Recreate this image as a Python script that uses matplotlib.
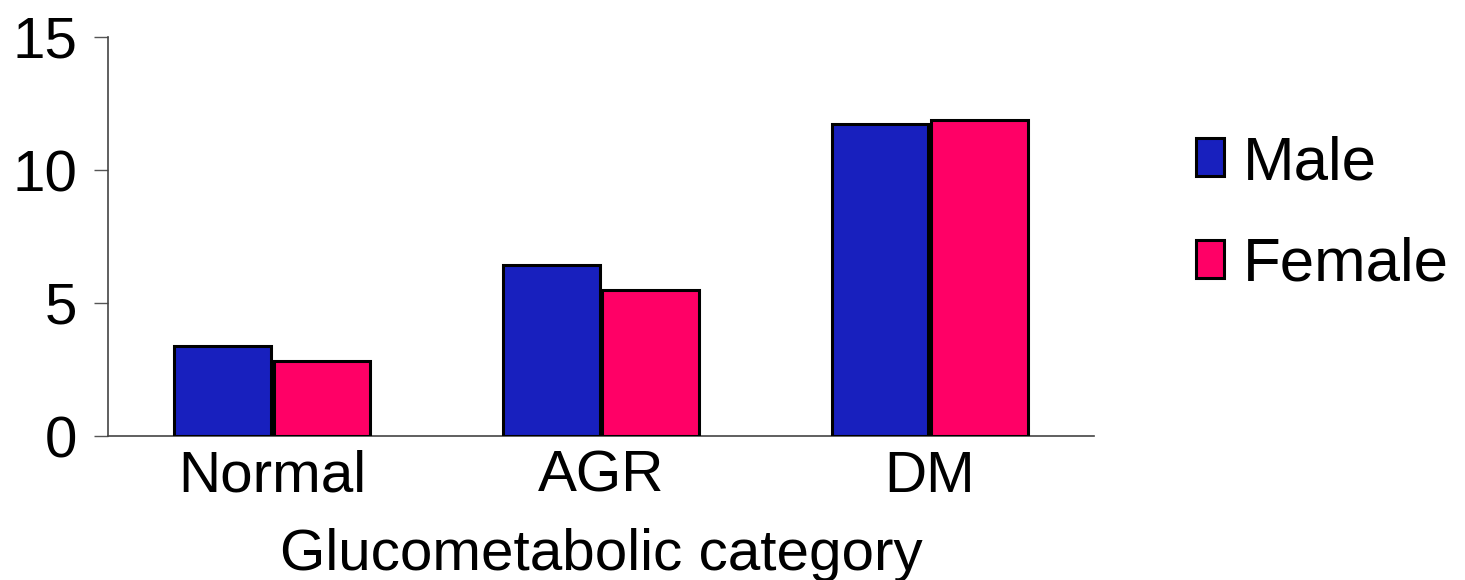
import matplotlib
matplotlib.use("Agg")
import matplotlib.pyplot as plt
import numpy as np

categories = ["Normal", "AGR", "DM"]
series_names = ["Male", "Female"]
male = [3.4, 6.43, 11.72]
female = [2.83, 5.49, 11.89]
colors = ["#1820BE", "#FF0066"]
yticks = [0, 5, 10, 15]

plt.rcParams['font.family'] = ['Liberation Sans', 'DejaVu Sans']

fig = plt.figure(figsize=(14.65, 5.8), dpi=100)
ax = fig.add_axes([108/1465, 1-436/580, (1094-108)/1465, (436-37)/580])

x = np.arange(len(categories))
w = 0.294
gap = 0.0045
ax.bar(x - w/2 - gap, male, width=w, color=colors[0], edgecolor='black', linewidth=2.2, label=series_names[0], zorder=3)
ax.bar(x + w/2 + gap, female, width=w, color=colors[1], edgecolor='black', linewidth=2.2, label=series_names[1], zorder=3)

ax.set_xlim(-0.5, 2.5)
ax.set_ylim(0, 15)
ax.set_yticks(yticks)
ax.set_yticklabels([str(t) for t in yticks], fontsize=42)
ax.set_xticks(x)
ax.set_xticklabels(categories, fontsize=42)
ax.tick_params(axis='x', length=0, pad=10)
ax.tick_params(axis='y', length=10, width=1, color='#555555', pad=12)
for s in ['top', 'right']:
    ax.spines[s].set_visible(False)
for s in ['left', 'bottom']:
    ax.spines[s].set_color('#444444')
    ax.spines[s].set_linewidth(1.2)
ax.set_xlabel("Glucometabolic category", fontsize=42, labelpad=17)

leg = fig.legend(loc='upper left', bbox_to_anchor=(1196/1465, 1-135/580), frameon=False,
                 fontsize=44.5, handlelength=0.45, handleheight=0.57, handletextpad=0.31,
                 labelspacing=0.72, borderpad=0, borderaxespad=0)

fig.savefig("out.png", dpi=100)
